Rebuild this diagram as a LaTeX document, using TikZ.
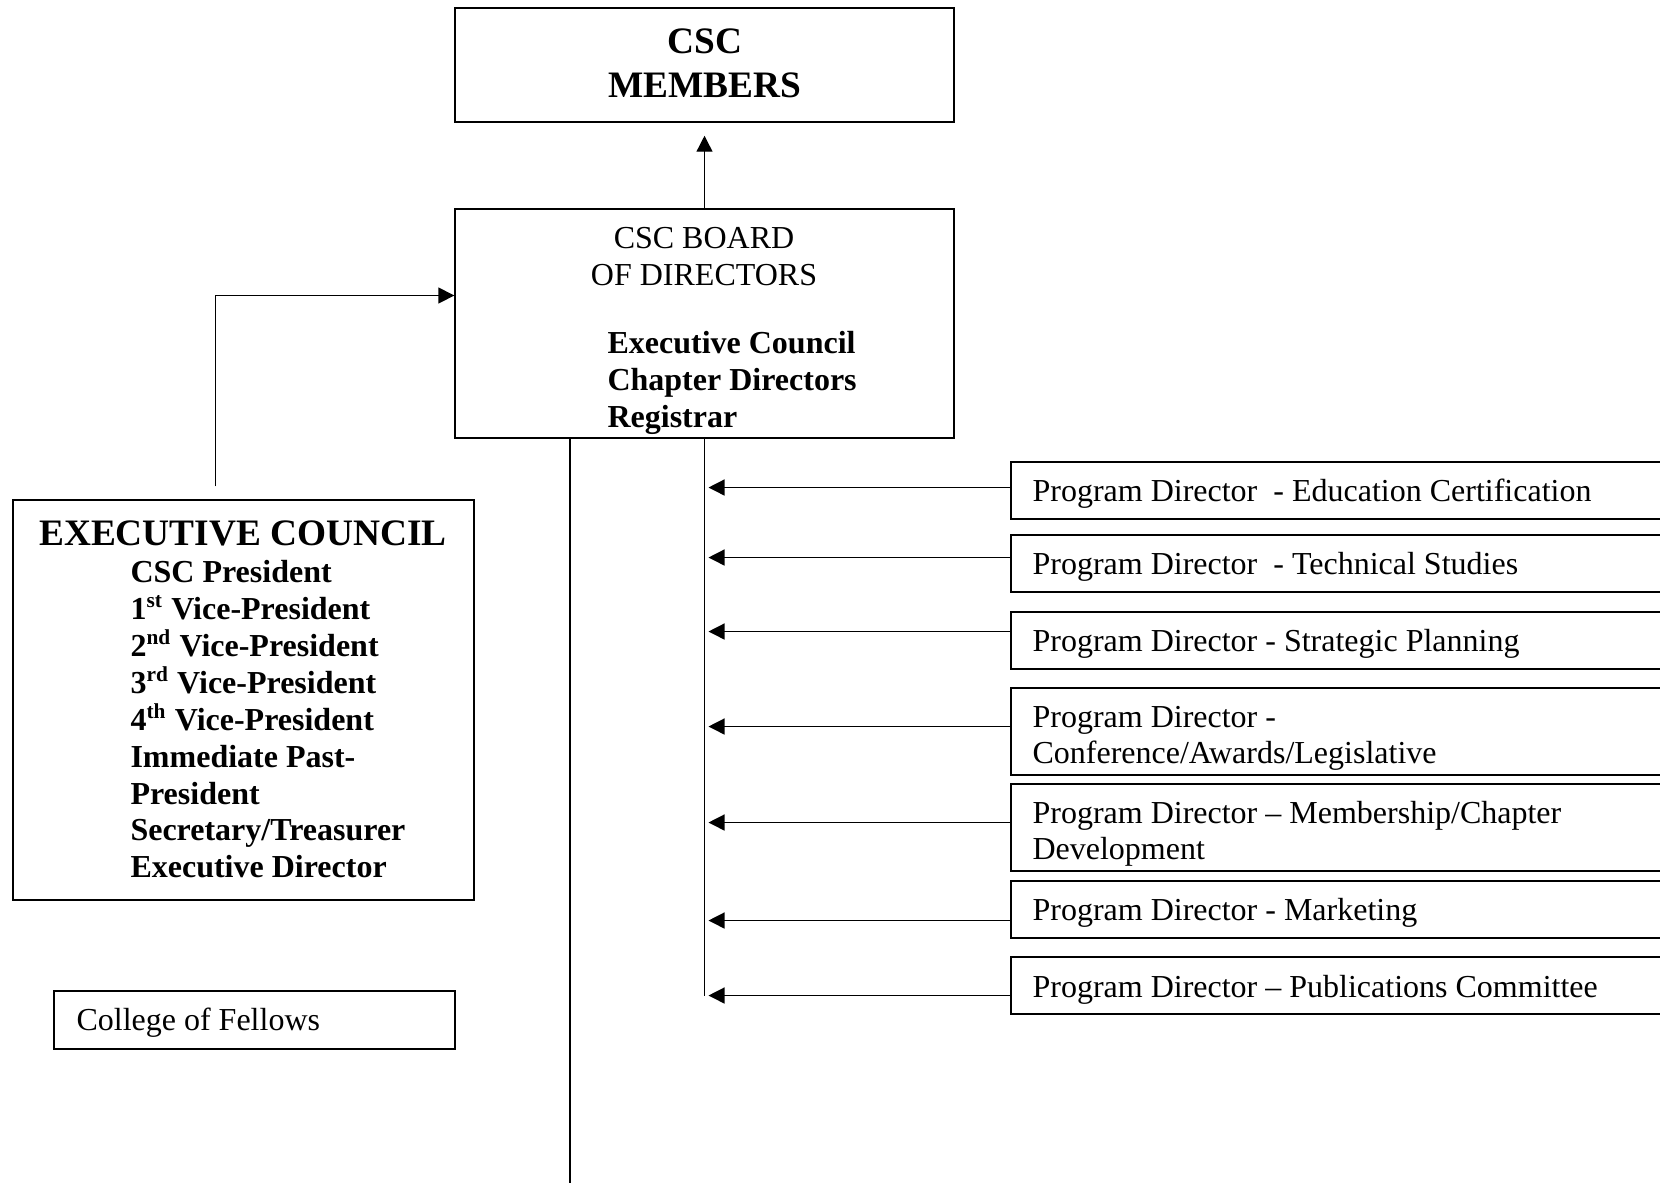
\documentclass[tikz,border=0pt]{standalone}
\usepackage{fontspec}
\setmainfont{Liberation Serif}
\usetikzlibrary{arrows.meta,calc,fit}

\begin{document}
\begin{tikzpicture}[x=0.375pt,y=-0.375pt,
    font=\fontsize{12}{14}\selectfont,
    box/.style={draw,line width=0.5pt,inner sep=0pt},
    txt/.style={inner sep=0pt,anchor=base west},
    ctxt/.style={inner sep=0pt,anchor=base},
    bold/.style={font=\bfseries\fontsize{12}{14}\selectfont},
    big/.style={font=\bfseries\fontsize{14}{16}\selectfont},
    arr/.style={-{Triangle[length=6pt,width=6pt]},line width=0.5pt}]
  \clip (0,0) rectangle (1660,1183);
  %% top boxes
  \node[box,fit={(455,8) (954,122)}] (members) {};
  \node[ctxt,big] (memt1) at (705,53) {CSC};
  \node[ctxt,big] (memt2) at (705,97) {MEMBERS};
  \node[box,fit={(455,209) (954,438)}] (board) {};
  \node[ctxt] (brdt1) at (704,248) {CSC BOARD};
  \node[ctxt] (brdt2) at (704,285) {OF DIRECTORS};
  \node[txt,bold] (brdt3) at (607,353) {Executive Council};
  \node[txt,bold] (brdt4) at (607,390) {Chapter Directors};
  \node[txt,bold] (brdt5) at (607,427) {Registrar};
  %% executive council
  \node[box,fit={(13,500) (474,900)}] (exec) {};
  \node[ctxt,big] (exect0) at (243,545) {EXECUTIVE COUNCIL};
  \node[txt,bold] (exect1) at (130,582) {CSC President};
  \node[txt,bold] (exect2) at (130,619) {1\textsuperscript{st} Vice-President};
  \node[txt,bold] (exect3) at (130,656) {2\textsuperscript{nd} Vice-President};
  \node[txt,bold] (exect4) at (130,693) {3\textsuperscript{rd} Vice-President};
  \node[txt,bold] (exect5) at (130,730) {4\textsuperscript{th} Vice-President};
  \node[txt,bold] (exect6) at (130,767) {Immediate Past-};
  \node[txt,bold] (exect7) at (130,804) {President};
  \node[txt,bold] (exect8) at (130,840) {Secretary/Treasurer};
  \node[txt,bold] (exect9) at (130,877) {Executive Director};
  \node[box,fit={(54,991) (455,1049)}] (fellows) {};
  \node[txt] (fellowst) at (76,1030) {College of Fellows};
  %% program directors
  \node[box,fit={(1011,462) (1680,519)}] (pd1) {};
  \node[txt] (pd1t) at (1032,501) {Program Director\ \ - Education Certification};
  \node[box,fit={(1011,535) (1680,592)}] (pd2) {};
  \node[txt] (pd2t) at (1032,574) {Program Director\ \ - Technical Studies};
  \node[box,fit={(1011,612) (1680,669)}] (pd3) {};
  \node[txt] (pd3t) at (1032,651) {Program Director - Strategic Planning};
  \node[box,fit={(1011,688) (1680,775)}] (pd4) {};
  \node[txt] (pd4t1) at (1032,727) {Program Director -};
  \node[txt] (pd4t2) at (1032,763) {Conference/Awards/Legislative};
  \node[box,fit={(1011,784) (1680,871)}] (pd5) {};
  \node[txt] (pd5t1) at (1032,823) {Program Director -- Membership/Chapter};
  \node[txt] (pd5t2) at (1032,859) {Development};
  \node[box,fit={(1011,881) (1680,938)}] (pd6) {};
  \node[txt] (pd6t) at (1032,920) {Program Director - Marketing};
  \node[box,fit={(1011,957) (1680,1014)}] (pd7) {};
  \node[txt] (pd7t) at (1032,997) {Program Director -- Publications Committee};
  %% connectors
  \draw[arr,shorten >=4.9pt] (board.north) -- (members.south);
  \draw[arr] ($(exec.north)+(-28,-13)$) |- ($(board.west)+(0,-28)$);
  \coordinate (tail) at (570,1183);
  \draw[line width=0.5pt] (board.south -| tail) -- (tail);
  \coordinate (a1) at ($(pd1.west)+(0,-3)$);
  \coordinate (a2) at ($(pd2.west)+(0,-6)$);
  \coordinate (a3) at ($(pd3.west)+(0,-9)$);
  \coordinate (a4) at ($(pd4.west)+(0,-5)$);
  \coordinate (a5) at ($(pd5.west)+(0,-5)$);
  \coordinate (a6) at ($(pd6.west)+(0,11)$);
  \coordinate (a7) at ($(pd7.west)+(0,10)$);
  \draw[line width=0.5pt] (board.south) -- (a7 -| board.south);
  \draw[arr,shorten >=1.5pt] (a1) -- (a1 -| board.south);
  \draw[arr,shorten >=1.5pt] (a2) -- (a2 -| board.south);
  \draw[arr,shorten >=1.5pt] (a3) -- (a3 -| board.south);
  \draw[arr,shorten >=1.5pt] (a4) -- (a4 -| board.south);
  \draw[arr,shorten >=1.5pt] (a5) -- (a5 -| board.south);
  \draw[arr,shorten >=1.5pt] (a6) -- (a6 -| board.south);
  \draw[arr,shorten >=1.5pt] (a7) -- (a7 -| board.south);
\end{tikzpicture}
\end{document}
